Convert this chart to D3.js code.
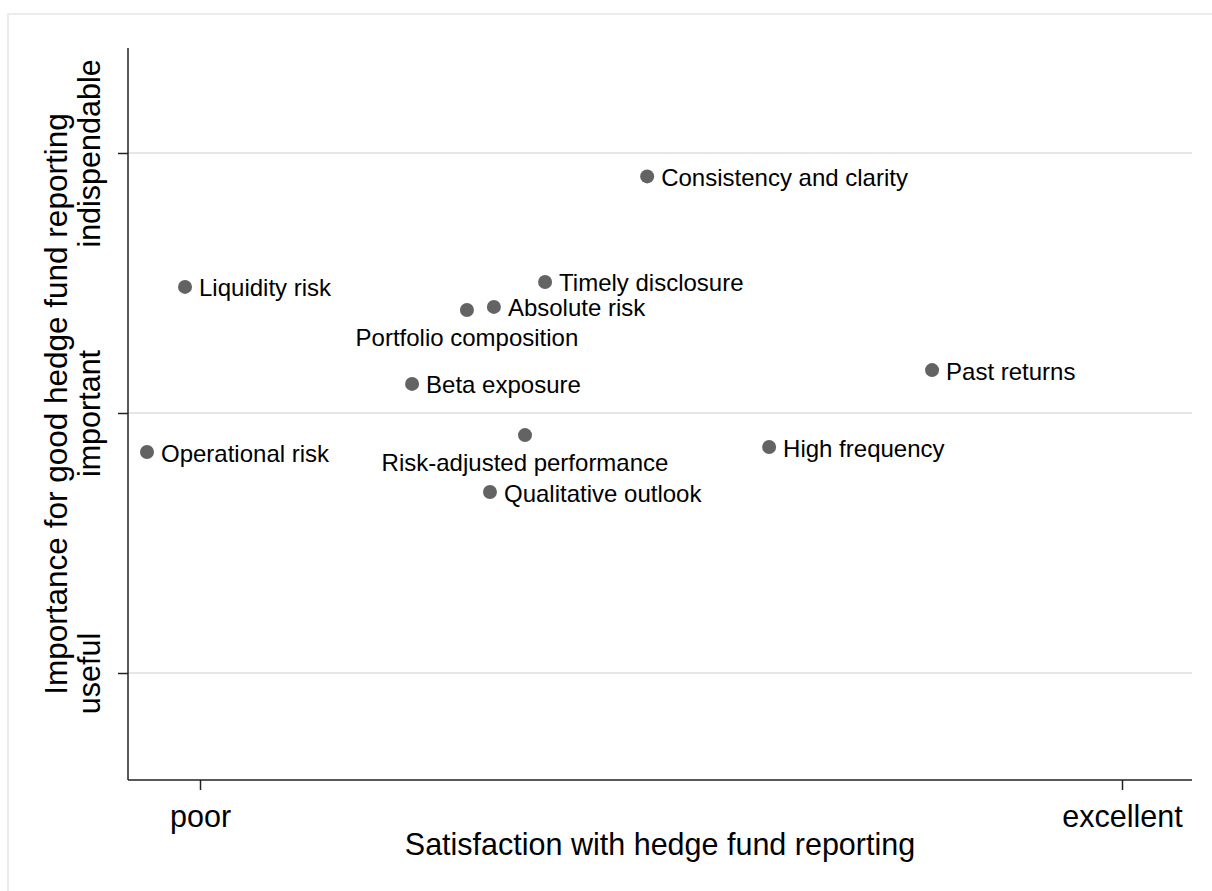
<!DOCTYPE html>
<html>
<head>
<meta charset="utf-8">
<script src="https://cdn.jsdelivr.net/npm/d3@7"></script>
<style>
  body { margin: 0; background: #fff; }
  text { font-family: "Liberation Sans", Arial, sans-serif; fill: #000; }
</style>
</head>
<body>
<div id="my_dataviz"></div>
<script>
// data (x: 1 = poor .. 5 = excellent, y: 1 = useful .. 3 = indispendable)
const items = ["Consistency and clarity", "Liquidity risk", "Timely disclosure", "Absolute risk",
  "Portfolio composition", "Beta exposure", "Past returns", "Operational risk",
  "Risk-adjusted performance", "High frequency", "Qualitative outlook"];
const satisfaction = [2.94, 0.935, 2.497, 2.275, 2.158, 1.92, 4.176, 0.77, 2.41, 3.469, 2.258];
const importance = [2.91, 2.485, 2.504, 2.408, 2.396, 2.112, 2.165, 1.85, 1.915, 1.869, 1.696];
const labelPos = ["right", "right", "right", "right", "below", "right", "right", "right", "below", "right", "right"];

const xTickVals = [1, 5];
const xTickLabels = ["poor", "excellent"];
const yTickVals = [1, 2, 3];
const yTickLabels = ["useful", "important", "indispendable"];

// set the dimensions
const W = 1212, H = 891;
const plot = {left: 128, right: 1192, top: 48, bottom: 780};

const svg = d3.select("#my_dataviz")
  .append("svg")
    .attr("width", W)
    .attr("height", H);

// outer frame
svg.append("rect")
  .attr("x", 8).attr("y", 14)
  .attr("width", W).attr("height", H)
  .attr("fill", "none")
  .attr("stroke", "#ececec")
  .attr("stroke-width", 2);

const x = d3.scaleLinear()
  .domain([0.6876, 5.3037])
  .range([plot.left, plot.right]);

const y = d3.scaleLinear()
  .domain([0.5885, 3.4038])
  .range([plot.bottom, plot.top]);

// grid lines
svg.selectAll("line.grid")
  .data(yTickVals)
  .join("line")
    .attr("class", "grid")
    .attr("x1", plot.left)
    .attr("x2", plot.right)
    .attr("y1", d => y(d))
    .attr("y2", d => y(d))
    .attr("stroke", "#e6e6e6")
    .attr("stroke-width", 2);

// X axis
const xAxis = svg.append("g")
  .attr("transform", `translate(0,${plot.bottom})`)
  .call(d3.axisBottom(x)
    .tickValues(xTickVals)
    .tickFormat((d, i) => xTickLabels[i])
    .tickSize(10)
    .tickSizeOuter(0));
xAxis.select(".domain").attr("stroke", "#222").attr("stroke-width", 1.5)
  .attr("d", `M${plot.left},0H${plot.right}`);
xAxis.selectAll(".tick line").attr("stroke", "#222").attr("stroke-width", 1.5);
xAxis.selectAll(".tick text")
  .attr("y", 47)
  .attr("dy", null)
  .style("font-size", "30.5px")
  .style("font-family", "'Liberation Sans', Arial, sans-serif")
  .attr("fill", "#000");

// Y axis
const yAxis = svg.append("g")
  .attr("transform", `translate(${plot.left},0)`)
  .call(d3.axisLeft(y)
    .tickValues(yTickVals)
    .tickFormat((d, i) => yTickLabels[i])
    .tickSize(10)
    .tickSizeOuter(0));
yAxis.select(".domain").attr("stroke", "#222").attr("stroke-width", 1.5)
  .attr("d", `M0,${plot.top}V${plot.bottom}`);
yAxis.selectAll(".tick line").attr("stroke", "#222").attr("stroke-width", 1.5);
yAxis.selectAll(".tick text")
  .attr("x", null)
  .attr("dy", null)
  .attr("transform", "translate(-28,0) rotate(-90)")
  .attr("text-anchor", "middle")
  .style("font-size", "30.5px")
  .style("font-family", "'Liberation Sans', Arial, sans-serif")
  .attr("fill", "#000");

// axis titles
svg.append("text")
  .attr("x", (plot.left + plot.right) / 2)
  .attr("y", 855)
  .attr("text-anchor", "middle")
  .attr("font-size", "30.5px")
  .text("Satisfaction with hedge fund reporting");

svg.append("text")
  .attr("transform", "translate(67,404) rotate(-90)")
  .attr("text-anchor", "middle")
  .attr("font-size", "31.5px")
  .text("Importance for good hedge fund reporting");

// points
svg.selectAll("circle.pt")
  .data(items)
  .join("circle")
    .attr("class", "pt")
    .attr("cx", (d, i) => x(satisfaction[i]))
    .attr("cy", (d, i) => y(importance[i]))
    .attr("r", 7)
    .attr("fill", "#636363");

// labels
svg.selectAll("text.lbl")
  .data(items)
  .join("text")
    .attr("class", "lbl")
    .attr("x", (d, i) => x(satisfaction[i]) + (labelPos[i] === "right" ? 14 : 0))
    .attr("y", (d, i) => y(importance[i]) + (labelPos[i] === "right" ? 9.5 : 36))
    .attr("text-anchor", (d, i) => labelPos[i] === "right" ? "start" : "middle")
    .attr("font-size", "24px")
    .text(d => d);
</script>
</body>
</html>
